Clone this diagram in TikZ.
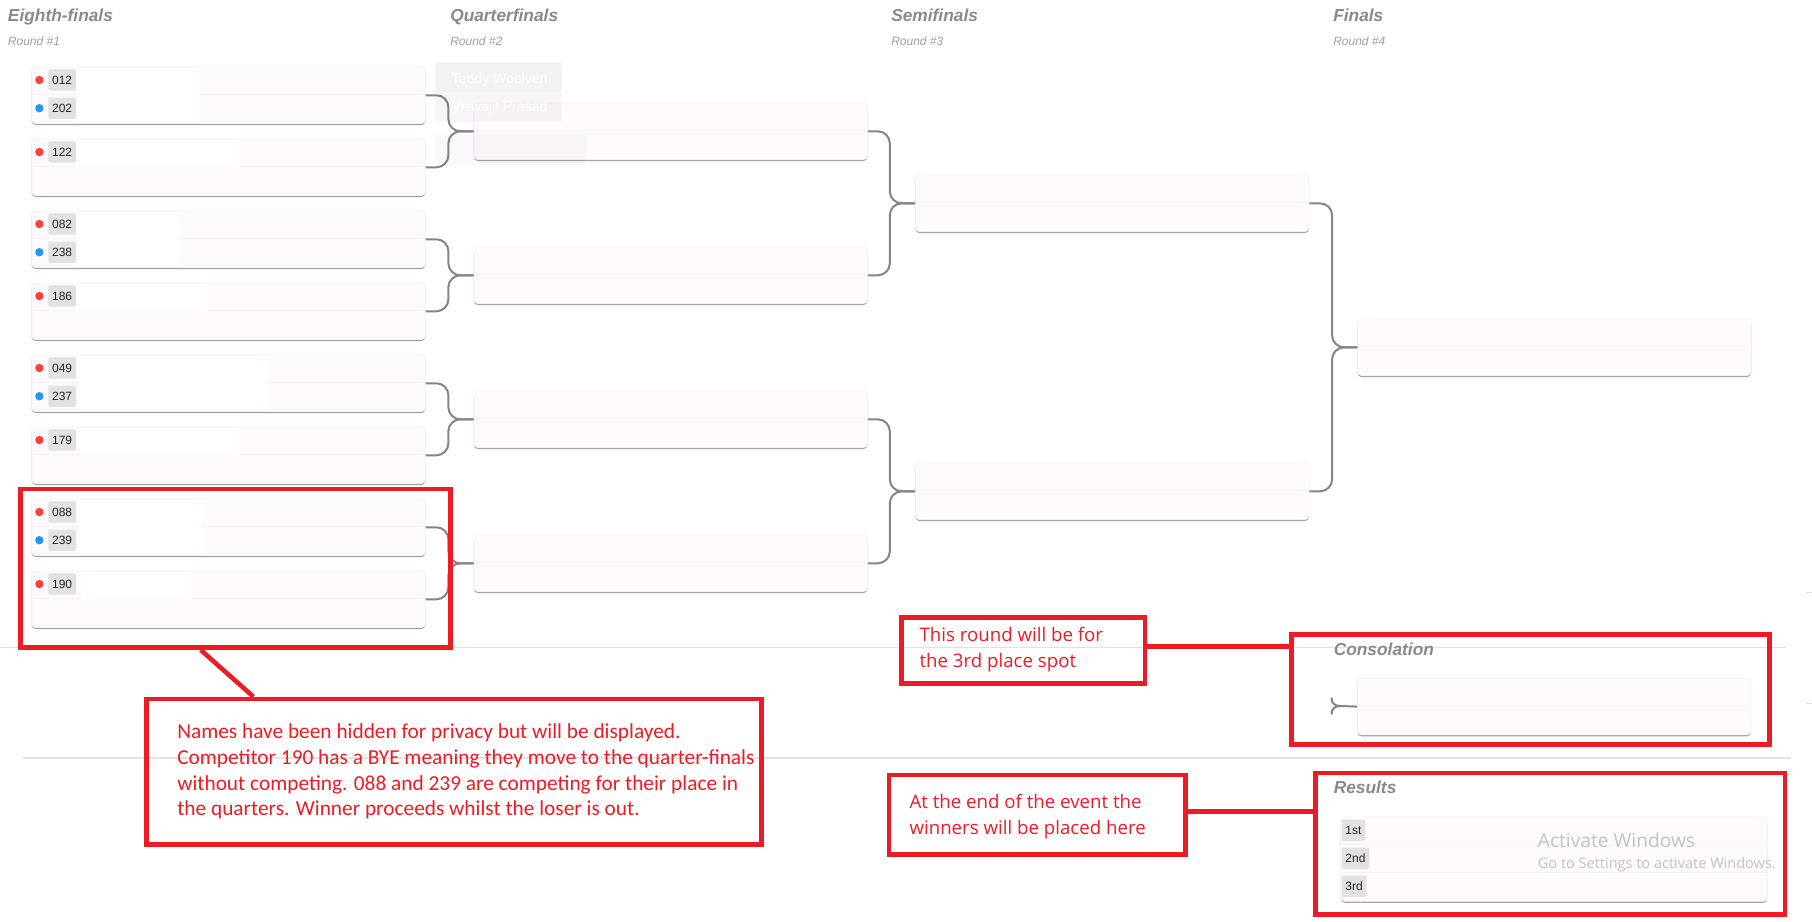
\documentclass[tikz,border=0pt]{standalone}
\usepackage{fontspec}
\setmainfont{Liberation Sans}
\newfontfamily\calfont{Carlito}
\newfontfamily\segfont{Open Sans}
\usetikzlibrary{calc}
\definecolor{boxpink}{HTML}{FEFAFE}
\definecolor{boxedge}{HTML}{F6F0F6}
\definecolor{shadowgray}{HTML}{A3A3A3}
\definecolor{conngray}{HTML}{858585}
\definecolor{headgray}{HTML}{8A8A8A}
\definecolor{subgray}{HTML}{A0A0A0}
\definecolor{badgegray}{HTML}{E3E0E3}
\definecolor{dotred}{HTML}{F44336}
\definecolor{dotblue}{HTML}{2196F3}
\definecolor{annred}{HTML}{ED1C24}
\definecolor{sepgray}{HTML}{E2E2E2}
\definecolor{wmgray}{HTML}{C2C2C2}
\definecolor{divpink}{HTML}{F8F0F8}
\newcommand{\entrant}[5]{% name, y, colour, number
  \fill[#3] (39.4,#2) circle[radius=4.2];
  \node[badge] (#1) at (48,#2) {#4};}
\begin{document}
\begin{tikzpicture}[x=0.75pt,y=-0.75pt,
  mbox/.style={anchor=north west, inner sep=0, minimum width=295.2pt, minimum height=42.4pt,
    rounded corners=3pt, fill=boxpink, draw=boxedge, line width=0.5pt,
    preaction={fill=shadowgray, draw=none, transform canvas={yshift=-1.1pt}}},
  divline/.style={draw=divpink, line width=0.6pt},
  badge/.style={anchor=west, fill=badgegray, rounded corners=1.5pt, inner xsep=2.9pt, inner ysep=0pt,
    minimum height=16pt, text=black!85, font=\fontsize{9}{10}\selectfont},
  conn/.style={draw=conngray, line width=1.5pt, rounded corners=9pt},
  head/.style={anchor=base west, text=headgray, font=\fontsize{13}{15}\selectfont\bfseries\itshape, inner sep=0},
  sub/.style={anchor=base west, text=subgray, font=\fontsize{9}{11}\selectfont\itshape, inner sep=0},
  redframe/.style={draw=annred, line width=3.4pt, inner sep=0},
  redline/.style={draw=annred, line width=3.4pt},
  bignote/.style={anchor=base west, text=annred, inner sep=0, font=\calfont\fontsize{16}{19}\selectfont},
  smallnote/.style={anchor=base west, text=annred, inner sep=0, font=\segfont\fontsize{14}{17}\selectfont},
  sep/.style={draw=sepgray, line width=0.8pt}
]
\useasboundingbox (0,0) rectangle (1812,921);
\fill[white] (0,0) rectangle (1812,921);

% separators
\draw[sep] (0,647.5) -- (1786,647.5);
\draw[sep] (23,758) -- (1791,758);
\draw[sep] (1806,592.3) -- (1812,592.3);
\draw[sep] (1806,703.3) -- (1812,703.3);

% headings
\node[head] (h1) at (7.7,21) {Eighth-finals};
\node[sub] (r1) at (7.7,45.7) {Round \#1};
\node[head] (h2) at (450,21) {Quarterfinals};
\node[sub] (r2) at (450,45.7) {Round \#2};
\node[head] (h3) at (891,21) {Semifinals};
\node[sub] (r3) at (891,45.7) {Round \#3};
\node[head] (h4) at (1333,21) {Finals};
\node[sub] (r4) at (1333,45.7) {Round \#4};
\node[head] (hc) at (1333.5,655) {Consolation};
\node[head] (hr) at (1333.5,793.3) {Results};

% eighth-final boxes
\foreach \i/\t in {1/66.7,2/138.7,3/210.7,4/282.7,5/354.7,6/426.7,7/498.7,8/570.7}{
  \node[mbox] (e\i) at (31.4,\t) {};
  \draw[divline] (31.4,\t+28) -- (425,\t+28);
}
% quarterfinal boxes
\foreach \i/\t in {1/102.7,2/246.7,3/390.7,4/534.7}{
  \node[mbox] (q\i) at (473.6,\t) {};
  \draw[divline] (473.6,\t+28) -- (867,\t+28);
}
% semifinal boxes
\foreach \i/\t in {1/174.7,2/462.7}{
  \node[mbox] (s\i) at (915,\t) {};
  \draw[divline] (915,\t+28) -- (1308.6,\t+28);
}
% final and consolation
\node[mbox] (f1) at (1357.3,318.7) {};
\draw[divline] (1357.3,346.7) -- (1750.9,346.7);
\node[mbox] (cons) at (1357,678) {};
\draw[divline] (1357,706) -- (1750.6,706);
% results
\node[mbox, minimum width=319.65pt, minimum height=63.2pt] (res) at (1340.5,816.7) {};
\draw[divline] (1340.5,844.3) -- (1766.7,844.3);
\draw[divline] (1340.5,872.3) -- (1766.7,872.3);

% hidden names (white blocks)
\fill[white] (76,68.2) rectangle (199,121.7);
\fill[white] (76,140.2) rectangle (239,166.7);
\fill[white] (76,212.2) rectangle (180,265.7);
\fill[white] (76,284.2) rectangle (206.7,310.7);
\fill[white] (78.5,356.2) rectangle (266.7,409.7);
\fill[white] (80,428.2) rectangle (239,454.7);
\fill[white] (78.5,500.2) rectangle (202,553.7);
\fill[white] (81,572.2) rectangle (190.6,598.7);

% entrants
\entrant{n012}{80.0}{dotred}{012}{}
\entrant{n202}{108.2}{dotblue}{202}{}
\entrant{n122}{152.0}{dotred}{122}{}
\entrant{n082}{224.0}{dotred}{082}{}
\entrant{n238}{252.2}{dotblue}{238}{}
\entrant{n186}{296.0}{dotred}{186}{}
\entrant{n049}{368.0}{dotred}{049}{}
\entrant{n237}{396.2}{dotblue}{237}{}
\entrant{n179}{440.0}{dotred}{179}{}
\entrant{n088}{512.0}{dotred}{088}{}
\entrant{n239}{540.2}{dotblue}{239}{}
\entrant{n190}{584.0}{dotred}{190}{}

% results badges
\node[badge] (p1) at (1341.3,830.2) {1st};
\node[badge] (p2) at (1341.3,858.2) {2nd};
\node[badge] (p3) at (1341.3,886.2) {3rd};

% connectors
\foreach \a/\b/\t in {e1/e2/q1,e3/e4/q2,e5/e6/q3,e7/e8/q4,q1/q2/s1,q3/q4/s2,s1/s2/f1}{
  \draw[conn] (\a.east) -| ([xshift=-18.9pt]\t.west) -- (\t.west);
  \draw[conn] (\b.east) -| ([xshift=-18.9pt]\t.west) -- (\t.west);
}
\coordinate (cA) at (1331.5,697.5);
\coordinate (cB) at (1331.5,714.5);
\coordinate (cT) at (1341,706);
\draw[draw=conngray, line width=1.5pt] (cA) .. controls (1331.5,703.5) and (1334.5,706) .. (cT) -- (cons.west);
\draw[draw=conngray, line width=1.5pt] (cB) .. controls (1331.5,708.5) and (1334.5,706) .. (cT);

% ghost drag elements
\fill[black, opacity=0.05, rounded corners=2pt] (435,62.3) rectangle (561.7,92.3);
\fill[black, opacity=0.035, rounded corners=2pt] (435,92.3) rectangle (561.7,121.7);
\fill[black, opacity=0.025, rounded corners=2pt] (435,134) rectangle (586.7,165);
\node[anchor=base west, inner sep=0, text=white, font=\fontsize{10.5}{12}\selectfont] (g1) at (451.7,83.3) {Teddy Woolven};
\node[anchor=base west, inner sep=0, text=white, opacity=0.8, font=\fontsize{10.5}{12}\selectfont] (g2) at (451.7,111) {Viswajit Prasad};

% watermark
\node[anchor=base west, inner sep=0, text=wmgray, font=\segfont\fontsize{14.4}{17}\selectfont] (w1) at (1537.6,847) {Activate Windows};
\node[anchor=base west, inner sep=0, text=wmgray, font=\segfont\fontsize{10.9}{13}\selectfont] (w2) at (1537.6,868.3) {Go to Settings to activate Windows.};

% annotation frames and notes
\node[redframe, minimum width=322.35pt, minimum height=119.1pt] (hl) at (235.55,568.35) {};
\node[redframe, minimum width=461.2pt, minimum height=109.1pt] (note1) at (454.1,771.7) {};
\node[redframe, minimum width=182.6pt, minimum height=49.4pt] (note2) at (1023.3,650.5) {};
\node[redframe, minimum width=358.7pt, minimum height=82.4pt] (frc) at (1530.4,689.5) {};
\node[redframe, minimum width=222.4pt, minimum height=59.6pt] (note3) at (1037.2,814.7) {};
\node[redframe, minimum width=352.4pt, minimum height=106.1pt] (frr) at (1550.2,843.7) {};

\draw[redline] ($(hl.south west)!0.42!(hl.south east)$) -- ($(note1.north west)!0.176!(note1.north east)$);
\draw[redline] ([yshift=3pt]note2.east) -- ([yshift=3pt]note2.east -| frc.west);
\draw[redline] ([yshift=2.25pt]note3.east) -- ([yshift=2.25pt]note3.east -| frr.west);

\node[bignote] (t1) at (177,738.3) {Names have been hidden for privacy but will be displayed.};
\node[bignote] (t2) at (177,764) {Competitor 190 has a BYE meaning they move to the quarter-finals};
\node[bignote] (t3) at (177,790) {without competing. 088 and 239 are competing for their place in};
\node[bignote] (t4) at (177,815.7) {the quarters. Winner proceeds whilst the loser is out.};

\node[smallnote] (t5) at (919.3,641.7) {This round will be for};
\node[smallnote] (t6) at (919.3,667.3) {the 3rd place spot};
\node[smallnote] (t7) at (909.3,808.3) {At the end of the event the};
\node[smallnote] (t8) at (909.3,834) {winners will be placed here};
\end{tikzpicture}
\end{document}
